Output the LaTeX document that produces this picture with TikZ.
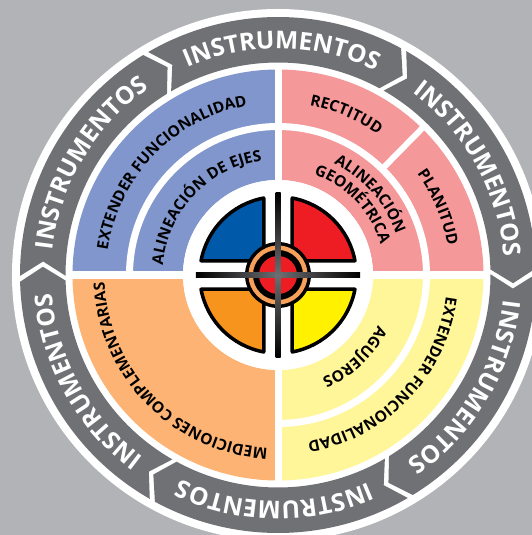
\documentclass[tikz,border=0pt]{standalone}
\usepackage{fontspec}
\setmainfont{Open Sans}
\usetikzlibrary{decorations.text}

\definecolor{bggray}{HTML}{B1B3B6}
\definecolor{ringgray}{HTML}{707175}
\definecolor{bandblue}{HTML}{8096CC}
\definecolor{bandpink}{HTML}{F49899}
\definecolor{bandorange}{HTML}{FCB373}
\definecolor{bandyellow}{HTML}{FFF699}
\definecolor{tblue}{HTML}{0059A9}
\definecolor{tred}{HTML}{EE1D24}
\definecolor{torange}{HTML}{F7941E}
\definecolor{tyellow}{HTML}{FFF100}
\definecolor{tring}{HTML}{F6A05A}
\definecolor{xgray}{HTML}{6D6E71}

\newcommand\ringtextfont{\bfseries\fontsize{24.5}{28}\selectfont}
\newcommand\lblfont{\bfseries\fontsize{15.5}{18}\selectfont}

\tikzset{
  ringlabel/.style={decorate, decoration={text along path, text align=center, text color=white}},
  bandlabel/.style={decorate, decoration={text along path, text align=center, text color=black}},
  targetq/.style={draw=black, line width=3.5pt, line join=round},
  sep/.style={draw=white, line width=#1},
}

\begin{document}
\begin{tikzpicture}[x=1pt,y=1pt]
\useasboundingbox (-278,-260) rectangle (254,275);
\fill[bggray] (-278,-260) rectangle (254,275);
\fill[white] (0,0) circle[radius=266];

% outer ring of chevron segments
\foreach \t in {121.5,61.5,1.5,-58.5,-118.5,-178.5}{
  \pgfmathsetmacro{\h}{\t-60}
  \pgfmathsetmacro{\s}{\t-1.3}
  \pgfmathsetmacro{\m}{\t-32.4}
  \fill[ringgray] (\s:258) arc[start angle=\s, end angle=\h, radius=258]
     -- (\h-3.5:235.25) -- (\h:212.5)
     arc[start angle=\h, end angle=\s, radius=212.5]
     -- (\s-3.5:235.25) -- cycle;
  \path[ringlabel, decoration={text={|\ringtextfont|INSTRUMENTOS}}]
     (\m+40:226.5) arc[start angle=\m+40, end angle=\m-40, radius=226.5];
}

% coloured quadrants
\fill[bandblue] (90:95) -- (90:205.5) arc[start angle=90, end angle=180, radius=205.5]
   -- (180:95) arc[start angle=180, end angle=90, radius=95] -- cycle;
\fill[bandpink] (0:95) -- (0:205.5) arc[start angle=0, end angle=90, radius=205.5]
   -- (90:95) arc[start angle=90, end angle=0, radius=95] -- cycle;
\fill[bandorange] (180:95) -- (180:205.5) arc[start angle=180, end angle=270, radius=205.5]
   -- (270:95) arc[start angle=270, end angle=180, radius=95] -- cycle;
\fill[bandyellow] (270:95) -- (270:205.5) arc[start angle=270, end angle=360, radius=205.5]
   -- (360:95) arc[start angle=360, end angle=270, radius=95] -- cycle;

% white separators
\draw[sep=7pt] (0,-207) -- (0,207);
\draw[sep=7pt] (-207,0) -- (207,0);
\draw[sep=7pt] (-90:148.5) arc[start angle=-90, end angle=180, radius=148.5];
\draw[sep=6pt] (45.5:148) -- (45.5:207);
\fill[white] (0,0) circle[radius=95];

% band labels
\path[bandlabel, decoration={text={|\lblfont|EXTENDER FUNCIONALIDAD}}]
  (206:172) arc[start angle=206, end angle=66, radius=172];
\path[bandlabel, decoration={text={|\lblfont|ALINEACIÓN DE EJES}}]
  (206.6:115.5) arc[start angle=206.6, end angle=66.6, radius=115.5];
\path[bandlabel, decoration={text={|\lblfont|RECTITUD}}]
  (107:172.5) arc[start angle=107, end angle=27, radius=172.5];
\path[bandlabel, decoration={text={|\lblfont|PLANITUD}}]
  (62.9:172) arc[start angle=62.9, end angle=-17.1, radius=172];
\path[bandlabel, decoration={text={|\lblfont|ALINEACIÓN}}]
  (91.4:125) arc[start angle=91.4, end angle=-8.6, radius=125];
\path[bandlabel, decoration={text={|\lblfont|GEOMÉTRICA}}]
  (93.5:107) arc[start angle=93.5, end angle=-6.5, radius=107];
\path[bandlabel, decoration={text={|\lblfont|MEDICIONES COMPLEMENTARIAS}}]
  (294.5:173.5) arc[start angle=294.5, end angle=154.5, radius=173.5];
\path[bandlabel, decoration={text={|\lblfont|EXTENDER FUNCIONALIDAD}}]
  (26.3:169.5) arc[start angle=26.3, end angle=-113.7, radius=169.5];
\path[bandlabel, decoration={text={|\lblfont|AGUJEROS}}]
  (3.2:112) arc[start angle=3.2, end angle=-96.8, radius=112];

% target
\filldraw[targetq, fill=tblue] (-14.25,14.25) -- (100.49:78.25)
  arc[start angle=100.49, end angle=169.51, radius=78.25] -- cycle;
\filldraw[targetq, fill=tred] (14.25,14.25) -- (10.49:78.25)
  arc[start angle=10.49, end angle=79.51, radius=78.25] -- cycle;
\filldraw[targetq, fill=torange] (-14.25,-14.25) -- (190.49:78.25)
  arc[start angle=190.49, end angle=259.51, radius=78.25] -- cycle;
\filldraw[targetq, fill=tyellow] (14.25,-14.25) -- (280.49:78.25)
  arc[start angle=280.49, end angle=349.51, radius=78.25] -- cycle;
\fill[black] (0,0) circle[radius=33];
\fill[tring] (0,0) circle[radius=29.5];
\fill[black] (0,0) circle[radius=25];
\fill[tred] (0,0) circle[radius=19];

% crosshair
\shade[left color=black, right color=black, middle color=xgray] (-82,-2.5) rectangle (82,2.5);
\shade[top color=black, bottom color=black, middle color=xgray] (-2.5,-82) rectangle (2.5,82);
\end{tikzpicture}
\end{document}
